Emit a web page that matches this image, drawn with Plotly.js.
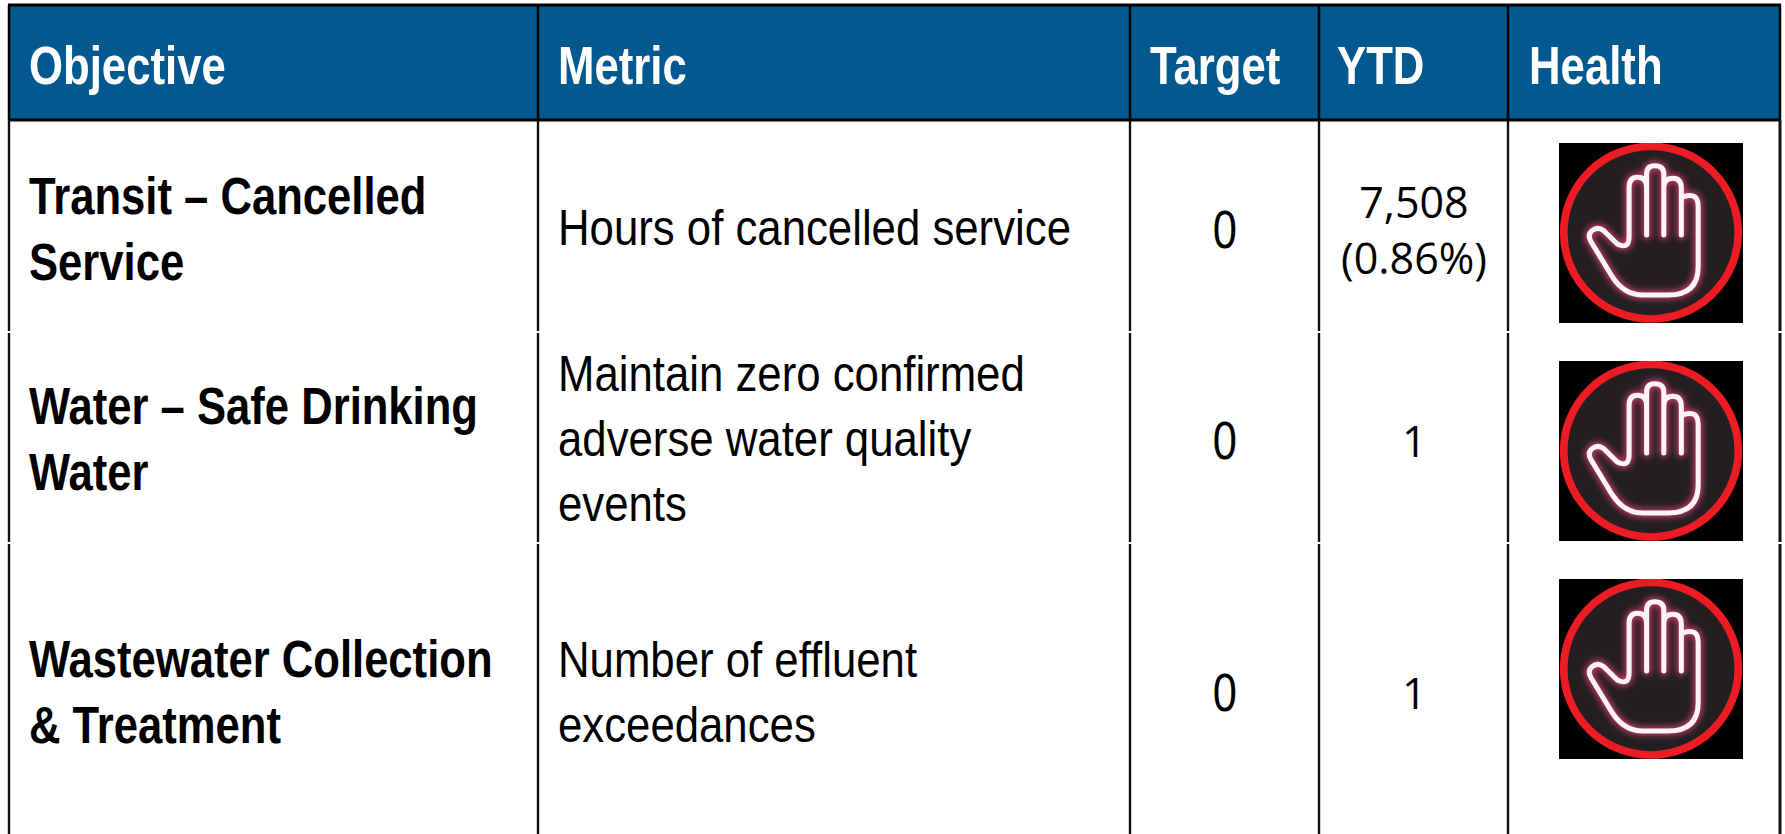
<!DOCTYPE html>
<html>
<head>
<meta charset="utf-8">
<script src="https://cdn.plot.ly/plotly-3.0.1.min.js"></script>
<style>html,body{margin:0;padding:0;background:#fff;overflow:hidden}</style>
</head>
<body>
<div id="chart" style="width:1785px;height:834px"></div>
<script>
const headers = ["Objective","Metric","Target","YTD","Health"];
const objectives = ["Transit – Cancelled<br>Service","Water – Safe Drinking<br>Water","Wastewater Collection<br>& Treatment"];
const metrics = ["Hours of cancelled service","Maintain zero confirmed<br>adverse water quality<br>events","Number of effluent<br>exceedances"];
const targets = ["0","0","0"];
const ytd = ["7,508<br>(0.86%)","1","1"];

const W = 1785, H = 834;
const colX = [9, 538, 1130, 1319, 1508, 1780];
const headX = [27, 556, 1148, 1335, 1527];
const headY = 65;
const rowY = {obj:[229,439,692], met:[228,439,692], tar:[229,440,692], ytd:[229,440,692]};
const iconTop = [143,361,579];
const iconX = [1559,1743], iconH = 180;
const gaps = [332,543];
const SANS = "'Liberation Sans',Arial,sans-serif";

const hand = "M385 262Q385 232 410 232Q437 232 437 262V405M437 262V222Q437 197 461 197Q488 197 488 222V405M488 262Q488 235 515 235Q540 235 540 265V405M547 290Q590 275 590 320V500Q590 585 500 585H425Q370 585 335 530L272 425Q260 405 275 392Q292 378 310 392L350 432Q385 450 385 410V262";
const iconSvg = `<svg xmlns="http://www.w3.org/2000/svg" width="546" height="540" viewBox="177 129 546 540"><defs><filter id="g" x="-30%" y="-30%" width="160%" height="160%"><feGaussianBlur stdDeviation="9"/></filter></defs><rect x="177" y="129" width="546" height="540" fill="#000"/><circle cx="450" cy="398" r="259" fill="#231F20" stroke="#ED1C24" stroke-width="23"/><path d="${hand}" fill="none" stroke="#C23A6E" stroke-width="26" stroke-linecap="round" filter="url(#g)"/><path d="${hand}" fill="none" stroke="#FBF3F6" stroke-width="15" stroke-linecap="round" stroke-linejoin="round"/></svg>`;
const iconUri = "data:image/svg+xml;base64," + btoa(iconSvg);

const shapes = [];
shapes.push({type:"rect",x0:colX[0],x1:colX[5],y0:5,y1:120,fillcolor:"#02598F",line:{width:0},layer:"below"});
const line = (x0,y0,x1,y1,w,c)=>shapes.push({type:"line",x0,y0,x1,y1,line:{color:c||"#000",width:w}});
line(colX[0]-1,5,colX[5]+1,5,3);
line(colX[0]-1,120,colX[5]+1,120,3);
colX.forEach((x,i)=>{
  line(x,5,x,120,2.5);
  const segs=[120].concat(gaps.flatMap(g=>[g-1,g+1])).concat([H]);
  for(let s=0;s<segs.length;s+=2) line(x,segs[s],x,segs[s+1],i===5?3:2.4,"#111");
});

const ann = [], squeeze = [];
const text=(x,y,t,sx,font,opts={})=>{
  ann.push(Object.assign({x,y,text:t,xref:"x",yref:"y",showarrow:false,xanchor:"left",yanchor:"middle",align:"left",font},opts));
  squeeze.push(sx);
};
const center = {xanchor:"center",align:"center"};
headers.forEach((h,i)=>text(headX[i],headY,`<b>${h}</b>`,0.825,{family:SANS,size:53,color:"#fff"}));
objectives.forEach((t,i)=>text(27,rowY.obj[i],`<b>${t.replace("<br>","</b><br><b>")}</b>`,0.855,{family:SANS,size:51,color:"#000"}));
metrics.forEach((t,i)=>text(556,rowY.met[i],t,0.875,{family:SANS,size:50,color:"#000"}));
targets.forEach((t,i)=>text(1224,rowY.tar[i],t,0.82,{family:SANS,size:53,color:"#000"},center));
ytd.forEach((t,i)=>text(1414,rowY.ytd[i],t,1,{family:"'Open Sans',sans-serif",size:43,color:"#000"},center));

const images = iconTop.map(y=>({source:iconUri,xref:"x",yref:"y",x:iconX[0],y:y,sizex:iconX[1]-iconX[0],sizey:iconH,sizing:"stretch",xanchor:"left",yanchor:"top",layer:"above"}));

const layout = {
  width:W,height:H,margin:{l:0,r:0,t:0,b:0},paper_bgcolor:"#fff",plot_bgcolor:"#fff",showlegend:false,
  xaxis:{range:[0,W],visible:false,fixedrange:true},
  yaxis:{range:[H,0],visible:false,fixedrange:true},
  shapes,annotations:ann,images
};
Plotly.newPlot("chart",[{x:[],y:[],type:"scatter",mode:"markers",hoverinfo:"skip"}],layout,{displayModeBar:false,staticPlot:true}).then(gd=>{
  gd.querySelectorAll(".annotation-text").forEach((el,i)=>{
    const b = el.getBBox();
    const a = ann[i].xanchor==="center" ? b.x+b.width/2 : b.x;
    el.setAttribute("transform",`translate(${a},0) scale(${squeeze[i]},1) translate(${-a},0)`);
  });
});
</script>
</body>
</html>
